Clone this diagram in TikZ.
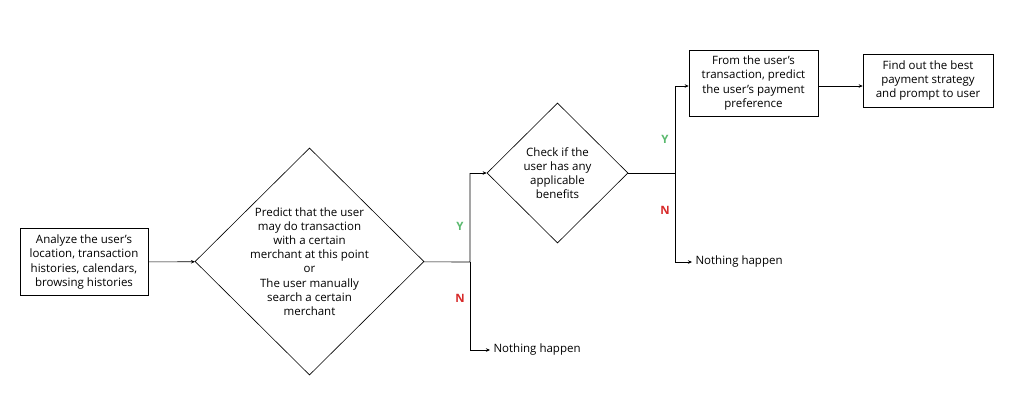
\documentclass[tikz,border=0pt]{standalone}
\usepackage{fontspec}
\setmainfont{Open Sans}
\usetikzlibrary{shapes.geometric,arrows.meta}
\tikzset{
  box/.style={draw, line width=0.6pt, align=center, inner sep=0pt, font=\fontsize{11.5}{14.2}\selectfont},
  dia/.style={draw, diamond, line width=0.6pt, align=center, inner sep=0pt, font=\fontsize{11.5}{14.2}\selectfont},
  flow/.style={line width=0.6pt, -{Stealth[length=4pt,width=3.5pt]}},
  lbl/.style={font=\fontsize{11.5}{14.2}\selectfont},
  yes/.style={font=\bfseries\fontsize{11.5}{14}\selectfont, text={rgb,255:red,90;green,185;blue,110}},
  no/.style={font=\bfseries\fontsize{11.5}{14}\selectfont, text={rgb,255:red,215;green,40;blue,40}}
}
\begin{document}
\begin{tikzpicture}[x=1pt,y=-1pt]
\useasboundingbox (0,0) rectangle (1024,400);

\node [box, minimum width=128, minimum height=67] (analyze) at (84,262) {Analyze the user's\\location, transaction\\histories, calendars,\\browsing histories};
\node [dia, minimum width=229, minimum height=227] (predict) at (309.5,261.5) {Predict that the user\\may do transaction\\with a certain\\merchant at this point\\or\\The user manually\\search a certain\\merchant};
\node [dia, minimum width=141, minimum height=140] (check) at (557.5,173) {Check if the\\user has any\\applicable\\benefits};
\node [box, minimum width=129, minimum height=66] (pref) at (753.5,83) {From the user's\\transaction, predict\\the user's payment\\preference};
\node [box, minimum width=130, minimum height=53] (best) at (928,80.5) {Find out the best\\payment strategy\\and prompt to user};

\coordinate (fork1) at (470,262);
\coordinate (fork1up) at (470,173);
\coordinate (fork1dn) at (470,350);
\node [lbl, anchor=west] (none1) at (490,350) {Nothing happen};
\coordinate (fork2) at (675,173);
\coordinate (fork2up) at (675,86);
\coordinate (fork2dn) at (675,262);
\node [lbl, anchor=west] (none2) at (692,262) {Nothing happen};

\draw [flow] (analyze) -- (predict);
\draw [line width=0.6pt] (predict) -- (fork1) -- (fork1up);
\draw [line width=0.6pt] (fork1) -- (fork1dn);
\draw [flow] (fork1up) -- (check);
\draw [flow] (fork1dn) -- (none1);
\node [yes] (y1) at (460,226) {Y};
\node [no] (n1) at (460,298) {N};

\draw [line width=0.6pt] (check) -- (fork2) -- (fork2up);
\draw [line width=0.6pt] (fork2) -- (fork2dn);
\draw [flow] (fork2up) -- (pref.west |- fork2up);
\draw [flow] (fork2dn) -- (none2);
\node [yes] (y2) at (665,139) {Y};
\node [no] (n2) at (665,210) {N};

\draw [flow] (pref.east |- 0,86) -- (best.west |- 0,86);
\end{tikzpicture}
\end{document}
